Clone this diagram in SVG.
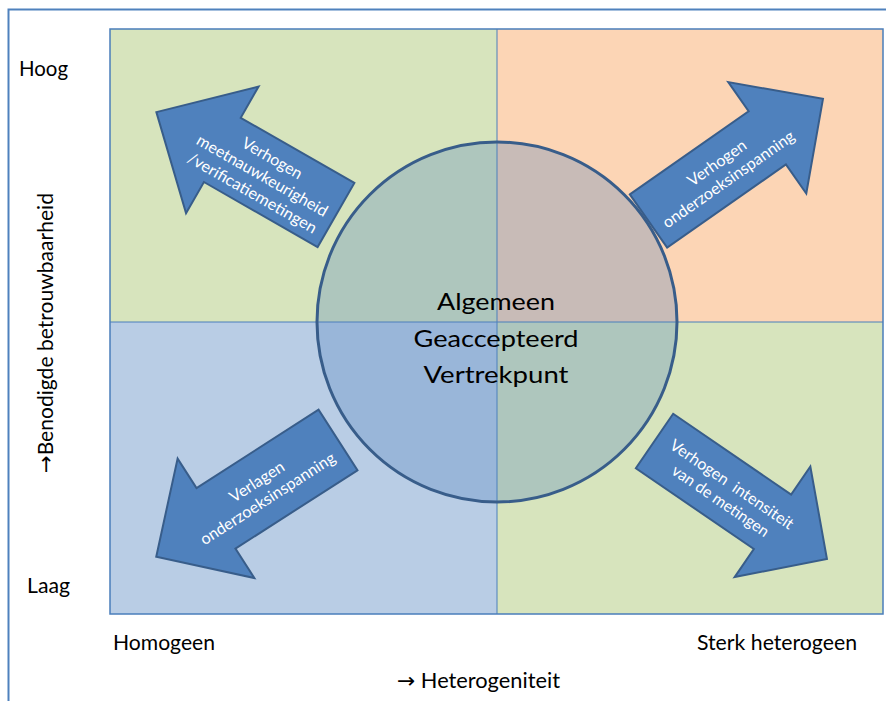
<svg xmlns="http://www.w3.org/2000/svg" width="886" height="701" viewBox="0 0 886 701">
<style>
.lbl{font-family:Lato,"Liberation Sans",sans-serif;fill:#000;font-size:21px}
.ctr{font-family:Lato,"Liberation Sans",sans-serif;fill:#000;font-size:24px;text-anchor:middle}
.at{font-family:Lato,"Liberation Sans",sans-serif;fill:#fff;font-size:16px;text-anchor:middle}
.arr{fill:#4F81BD;stroke:#385D8A;stroke-width:2;stroke-linejoin:miter}
.div{stroke:#4A7EBB;stroke-width:1;fill:none}
.ar{font-family:"DejaVu Sans",sans-serif}
</style>
<rect width="886" height="701" fill="#fff"/>
<path d="M8.5,701 V9.5 H886" fill="none" stroke="#4F81BD" stroke-width="2"/>
<g id="quadrants">
<rect x="110" y="29" width="387" height="293" fill="#D7E4BD"/>
<rect x="497" y="29" width="386" height="293" fill="#FCD5B5"/>
<rect x="110" y="322" width="387" height="292" fill="#B9CDE5"/>
<rect x="497" y="322" width="386" height="292" fill="#D7E4BD"/>
<rect x="110" y="29" width="773" height="585" fill="none" stroke="#4A7EBB" stroke-width="1.5"/>
<path class="div" d="M497,29 V614 M110,322 H883"/>
</g>
<g id="center">
<circle cx="497" cy="322" r="180" fill="#4F81BD" fill-opacity="0.3" stroke="#385D8A" stroke-width="3"/>
<text class="ctr" x="496" y="310" textLength="118" lengthAdjust="spacingAndGlyphs">Algemeen</text>
<text class="ctr" x="496" y="347" textLength="165" lengthAdjust="spacingAndGlyphs">Geaccepteerd</text>
<text class="ctr" x="496" y="383" textLength="145" lengthAdjust="spacingAndGlyphs">Vertrekpunt</text>
</g>
<g id="connectors">
<g id="arrow-tl">
<path class="arr" d="M0,-37 L131,-37 L131,-73 L207,0 L131,73 L131,37 L0,37 Z" transform="translate(336,215) rotate(209.8)"/>
<g transform="translate(262,176) rotate(29.8)">
<text class="at" x="0" y="-15" textLength="67" lengthAdjust="spacingAndGlyphs">Verhogen</text>
<text class="at" x="0" y="5" textLength="148" lengthAdjust="spacingAndGlyphs">meetnauwkeurigheid</text>
<text class="at" x="0" y="25" textLength="146" lengthAdjust="spacingAndGlyphs">/verificatiemetingen</text>
</g>
</g>
<g id="arrow-tr">
<path class="arr" d="M0,-32.5 L145,-32.5 L145,-68 L213,0 L145,68 L145,32.5 L0,32.5 Z" transform="translate(648.5,221) rotate(-35)"/>
<g transform="translate(723,171.5) rotate(-35)">
<text class="at" x="0" y="-5" textLength="68" lengthAdjust="spacingAndGlyphs">Verhogen</text>
<text class="at" x="0" y="15" textLength="157" lengthAdjust="spacingAndGlyphs">onderzoeksinspanning</text>
</g>
</g>
<g id="arrow-bl">
<path class="arr" d="M0,-36 L145,-36 L145,-71 L216,0 L145,71 L145,36 L0,36 Z" transform="translate(338,440) rotate(147.3)"/>
<g transform="translate(262.5,490.5) rotate(-32.7)">
<text class="at" x="0" y="-5" textLength="62" lengthAdjust="spacingAndGlyphs">Verlagen</text>
<text class="at" x="0" y="15" textLength="157" lengthAdjust="spacingAndGlyphs">onderzoeksinspanning</text>
</g>
</g>
<g id="arrow-br">
<path class="arr" d="M0,-33 L143,-33 L143,-67 L209,0 L143,67 L143,33 L0,33 Z" transform="translate(654.5,441) rotate(34.4)"/>
<g transform="translate(726,493) rotate(34.4)">
<text class="at" x="0" y="-5" textLength="146" lengthAdjust="spacingAndGlyphs" xml:space="preserve">Verhogen  intensiteit</text>
<text class="at" x="0" y="15" textLength="114" lengthAdjust="spacingAndGlyphs">van de metingen</text>
</g>
</g>
</g>
<g id="axis-labels">
<text class="lbl" x="19" y="76" textLength="49" lengthAdjust="spacingAndGlyphs">Hoog</text>
<text class="lbl" x="27" y="593" textLength="43" lengthAdjust="spacingAndGlyphs">Laag</text>
<text class="lbl" x="113" y="650" textLength="102" lengthAdjust="spacingAndGlyphs">Homogeen</text>
<text class="lbl" x="697" y="650" textLength="160" lengthAdjust="spacingAndGlyphs">Sterk heterogeen</text>
<text class="lbl" x="397" y="688" textLength="163" lengthAdjust="spacingAndGlyphs"><tspan class="ar">→</tspan> Heterogeniteit</text>
<text class="lbl" transform="translate(53,473) rotate(-90)" x="0" y="0" textLength="280" lengthAdjust="spacingAndGlyphs"><tspan class="ar">→</tspan>Benodigde betrouwbaarheid</text>
</g>
</svg>
